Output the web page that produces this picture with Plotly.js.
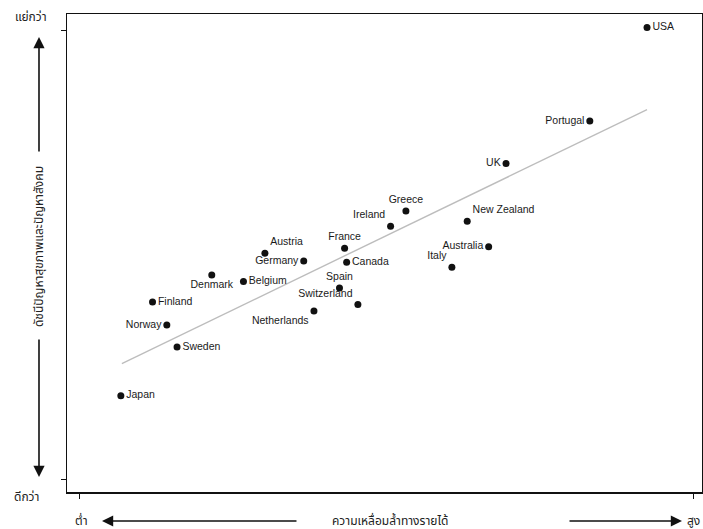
<!DOCTYPE html>
<html>
<head>
<meta charset="utf-8">
<script src="https://cdn.plot.ly/plotly-3.0.1.min.js"></script>
<style>html,body{margin:0;padding:0;background:#fff;}#chart{width:703px;height:529px;}</style>
</head>
<body>
<div id="chart"></div>
<script>
const countries = ["USA","Portugal","UK","Greece","Ireland","New Zealand","France","Canada","Australia","Italy","Austria","Germany","Denmark","Belgium","Spain","Switzerland","Netherlands","Finland","Norway","Sweden","Japan"];
const inequality = [8.55,7.99,7.17,6.19,6.04,6.79,5.59,5.61,7.00,6.64,4.81,5.19,4.29,4.60,5.54,5.72,5.29,3.71,3.85,3.95,3.40];
const healthIndex = [2.02,1.29,0.96,0.59,0.47,0.51,0.30,0.19,0.31,0.15,0.26,0.20,0.09,0.04,-0.01,-0.14,-0.19,-0.12,-0.30,-0.47,-0.85];
const trendX = [3.41, 8.55];
const trendY = [-0.60, 1.38];
const xTickVals = [3, 9];
const yTickVals = [-1.5, 2];
const xLow = "ต่ำ", xHigh = "สูง", xTitle = "ความเหลื่อมล้ำทางรายได้";
const yWorse = "แย่กว่า", yBetter = "ดีกว่า", yTitle = "ดัชนีปัญหาสุขภาพและปัญหาสังคม";

const labelPos = {
  "USA":"middle right","Portugal":"middle left","UK":"middle left","Greece":"top center",
  "Ireland":"top left","New Zealand":"top right","France":"top center","Canada":"middle right",
  "Australia":"middle left","Italy":"top left","Austria":"top right","Germany":"middle left",
  "Denmark":"bottom center","Belgium":"middle right","Spain":"top center","Switzerland":"top left",
  "Netherlands":"bottom left","Finland":"middle right","Norway":"middle left","Sweden":"middle right","Japan":"middle right"
};

const thaiFont = {family:"Noto Sans Thai, Noto Sans, sans-serif", size:12, color:"#222"};

const traces = [
  {x: trendX, y: trendY, mode:"lines", line:{color:"#bdbdbd", width:1.4}, hoverinfo:"skip", showlegend:false},
  {x: inequality, y: healthIndex, text: countries, mode:"markers+text",
   textposition: countries.map(c => labelPos[c]),
   marker:{color:"#111", size:7},
   textfont:{family:"Liberation Sans, Arial, sans-serif", size:10.5, color:"#1a1a1a"},
   showlegend:false}
];

const axBase = {showgrid:false, zeroline:false, showline:true, mirror:true, linecolor:"#111", linewidth:1.5,
  ticks:"outside", ticklen:5, tickcolor:"#111", tickwidth:1, showticklabels:false};

function label(x, y, text, extra){
  return Object.assign({xref:"paper", yref:"paper", x:x, y:y, text:text, showarrow:false,
    xanchor:"center", yanchor:"middle", font:thaiFont}, extra || {});
}
function arrow(x, y, ax, ay){
  return {xref:"paper", yref:"paper", x:x, y:y, ax:ax, ay:ay, axref:"pixel", ayref:"pixel",
    text:"", showarrow:true, arrowhead:2, arrowsize:1.4, arrowwidth:1.6, arrowcolor:"#111"};
}

const layout = {
  width:703, height:529,
  margin:{l:67, r:1, t:14, b:37},
  paper_bgcolor:"#fff", plot_bgcolor:"#fff",
  xaxis: Object.assign({range:[2.873, 9.088], tickvals:xTickVals}, axBase),
  yaxis: Object.assign({range:[-1.601, 2.125], tickvals:yTickVals}, axBase),
  annotations: [
    label(-0.0567, 0.9937, yWorse),
    label(-0.063, -0.0105, yBetter),
    label(-0.0441, 0.5146, yTitle, {textangle:-90}),
    label(0.0236, -0.0607, xLow),
    label(1.0, -0.0607, xHigh, {xanchor:"right"}),
    label(0.5087, -0.0607, xTitle),
    arrow(-0.0441, 0.9519, 0, 116),
    arrow(-0.0441, 0.0314, 0, -139),
    arrow(0.0551, -0.0607, 196, 0),
    arrow(0.9685, -0.0607, -114, 0)
  ]
};

Plotly.newPlot("chart", traces, layout, {displayModeBar:false, staticPlot:true});
</script>
</body>
</html>
